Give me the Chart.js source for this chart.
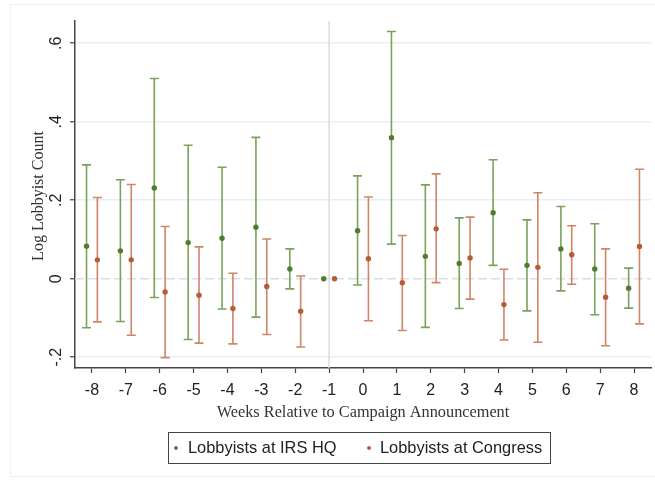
<!DOCTYPE html>
<html>
<head>
<meta charset="utf-8">
<script src="https://cdn.jsdelivr.net/npm/chart.js@4.4.1/dist/chart.umd.min.js"></script>
<style>
  html, body { margin: 0; padding: 0; background: #fff; }
  #wrap { width: 655px; height: 481px; position: relative; }
</style>
</head>
<body>
<div id="wrap"><canvas id="c" width="655" height="481"></canvas></div>
<script>
// ---- data ----
const weeks = [-8,-7,-6,-5,-4,-3,-2,-1,0,1,2,3,4,5,6,7,8];
const irsEst  = [0.083,0.071,0.231,0.092,0.103,0.131,0.025,0,0.122,0.359,0.057,0.039,0.168,0.034,0.076,0.025,-0.024];
const irsLow  = [-0.125,-0.109,-0.048,-0.155,-0.077,-0.098,-0.026,0,-0.016,0.088,-0.124,-0.076,0.034,-0.082,-0.031,-0.092,-0.075];
const irsHigh = [0.290,0.252,0.510,0.340,0.284,0.360,0.076,0,0.262,0.630,0.239,0.155,0.303,0.150,0.184,0.140,0.027];
const conEst  = [0.048,0.048,-0.034,-0.042,-0.076,-0.020,-0.083,0,0.051,-0.010,0.127,0.053,-0.066,0.029,0.061,-0.047,0.082];
const conLow  = [-0.110,-0.144,-0.201,-0.164,-0.166,-0.142,-0.174,0,-0.107,-0.132,-0.010,-0.052,-0.156,-0.162,-0.014,-0.171,-0.115];
const conHigh = [0.207,0.240,0.133,0.081,0.014,0.101,0.007,0,0.208,0.110,0.267,0.157,0.024,0.219,0.135,0.076,0.279];
const yTicks = [-0.2, 0, 0.2, 0.4, 0.6];
const yTickLabels = ['-.2', '0', '.2', '.4', '.6'];
const seriesNames = ['Lobbyists at IRS HQ', 'Lobbyists at Congress'];
const xTitle = 'Weeks Relative to Campaign Announcement';
const yTitle = 'Log Lobbyist Count';

const OFFSET = 0.16;
const GREEN_LINE = '#79a35a', GREEN_PT = '#4e7d2f';
const RED_LINE = '#cf8668', RED_PT = '#b85a33';
const SANS = '"Liberation Sans", Arial, sans-serif';
const SERIF = '"Liberation Serif", "Times New Roman", serif';

const irsPts = weeks.map((w,i) => ({x: w - OFFSET, y: irsEst[i]}));
const conPts = weeks.map((w,i) => ({x: w + OFFSET, y: conEst[i]}));

const bars = [
  {xs: weeks.map(w => w - OFFSET), lo: irsLow, hi: irsHigh, color: GREEN_LINE},
  {xs: weeks.map(w => w + OFFSET), lo: conLow, hi: conHigh, color: RED_LINE}
];

const decor = {
  id: 'decor',
  beforeDatasetsDraw(chart) {
    const {ctx, chartArea: a, scales: {x, y}} = chart;
    ctx.save();
    // zero dashed line
    const y0 = y.getPixelForValue(0);
    ctx.strokeStyle = '#d6dfe2';
    ctx.lineWidth = 1.5;
    ctx.setLineDash([9, 4]);
    ctx.beginPath(); ctx.moveTo(a.left, y0); ctx.lineTo(a.right, y0); ctx.stroke();
    ctx.setLineDash([]);
    // vertical line at -1
    const xv = x.getPixelForValue(-1);
    ctx.strokeStyle = '#dcdcdc';
    ctx.lineWidth = 1.5;
    ctx.beginPath(); ctx.moveTo(xv, a.top); ctx.lineTo(xv, a.bottom); ctx.stroke();
    // error bars
    bars.forEach(b => {
      ctx.strokeStyle = b.color;
      ctx.lineWidth = 1.6;
      b.xs.forEach((xv2, i) => {
        if (b.lo[i] === b.hi[i]) return;
        const px = x.getPixelForValue(xv2);
        const pl = y.getPixelForValue(b.lo[i]);
        const ph = y.getPixelForValue(b.hi[i]);
        ctx.beginPath();
        ctx.moveTo(px, pl); ctx.lineTo(px, ph);
        ctx.moveTo(px - 4.5, pl); ctx.lineTo(px + 4.5, pl);
        ctx.moveTo(px - 4.5, ph); ctx.lineTo(px + 4.5, ph);
        ctx.stroke();
      });
    });
    ctx.restore();
  },
  afterDraw(chart) {
    const {ctx, chartArea: a, scales: {y}} = chart;
    ctx.save();
    // outer faint frame
    ctx.strokeStyle = '#f0f2f2';
    ctx.lineWidth = 1;
    ctx.strokeRect(10.5, 4.5, 660, 472);
    // y tick labels rotated
    ctx.fillStyle = '#222';
    ctx.font = '16px ' + SANS;
    ctx.textAlign = 'center';
    ctx.textBaseline = 'middle';
    yTicks.forEach((v, i) => {
      const py = y.getPixelForValue(v);
      ctx.save();
      ctx.translate(57, py);
      ctx.rotate(-Math.PI / 2);
      ctx.fillText(yTickLabels[i], 0, 0);
      ctx.restore();
    });
    // y title
    ctx.font = '16px ' + SERIF;
    ctx.fillStyle = '#333';
    ctx.save();
    ctx.translate(39, 196);
    ctx.rotate(-Math.PI / 2);
    ctx.fillText(yTitle, 0, 0);
    ctx.restore();
    // x title
    ctx.font = '16.3px ' + SERIF;
    ctx.fillText(xTitle, (a.left + a.right) / 2, 413);
    // legend
    ctx.strokeStyle = '#444';
    ctx.lineWidth = 1;
    ctx.strokeRect(168.5, 432.5, 382, 31);
    ctx.font = '16.4px ' + SANS;
    ctx.fillStyle = '#222';
    ctx.textAlign = 'left';
    ctx.fillText(seriesNames[0], 188, 448);
    ctx.fillText(seriesNames[1], 380, 448);
    ctx.fillStyle = GREEN_PT;
    ctx.beginPath(); ctx.arc(176, 448, 1.9, 0, Math.PI * 2); ctx.fill();
    ctx.fillStyle = RED_PT;
    ctx.beginPath(); ctx.arc(369, 448, 1.9, 0, Math.PI * 2); ctx.fill();
    ctx.restore();
  }
};

new Chart(document.getElementById('c'), {
  type: 'scatter',
  data: {
    datasets: [
      {label: seriesNames[0], data: irsPts, backgroundColor: GREEN_PT, borderColor: GREEN_PT, pointRadius: 2.7, pointBorderWidth: 0},
      {label: seriesNames[1], data: conPts, backgroundColor: RED_PT, borderColor: RED_PT, pointRadius: 2.7, pointBorderWidth: 0}
    ]
  },
  options: {
    responsive: false,
    animation: false,
    events: [],
    layout: {padding: {left: 0, right: 3, top: 21, bottom: 61}},
    plugins: {legend: {display: false}, tooltip: {enabled: false}},
    scales: {
      x: {
        type: 'linear',
        min: -8.5, max: 8.5,
        afterBuildTicks: s => { s.ticks = weeks.map(v => ({value: v})); },
        afterFit: s => { s.height = 52; },
        ticks: {color: '#222', font: {family: SANS, size: 16}, padding: 8, maxRotation: 0, autoSkip: false},
        grid: {drawOnChartArea: false, drawTicks: true, tickLength: 5, tickColor: '#444', tickWidth: 1.2},
        border: {display: true, color: '#444', width: 1.5}
      },
      y: {
        min: -0.2275, max: 0.6566,
        afterBuildTicks: s => { s.ticks = yTicks.map(v => ({value: v})); },
        afterFit: s => { s.width = 75; },
        ticks: {display: false},
        grid: {
          drawOnChartArea: true, drawTicks: true, tickLength: 5,
          color: c => (c.tick && c.tick.value === 0) ? 'rgba(0,0,0,0)' : '#e7f0f1',
          lineWidth: 1.5,
          tickColor: '#444', tickWidth: 1.2
        },
        border: {display: true, color: '#444', width: 1.5}
      }
    }
  },
  plugins: [decor]
});
</script>
</body>
</html>
